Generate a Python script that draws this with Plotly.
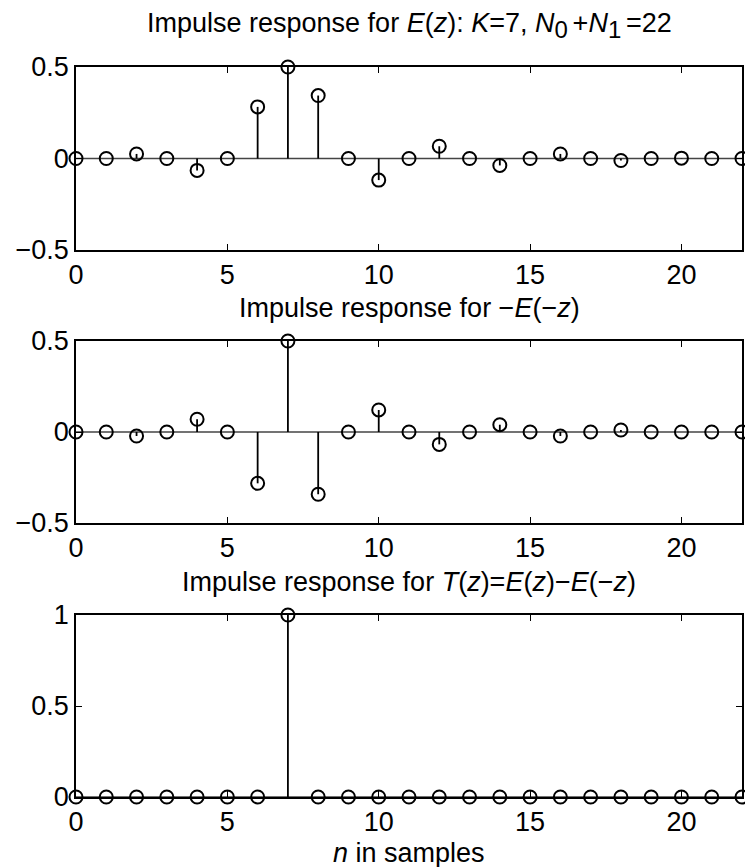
import plotly.graph_objects as go

n = list(range(23))
h_E = [0, 0, 0.025, 0, -0.065, 0, 0.282, 0.5, 0.344, 0, -0.118, 0, 0.067, 0,
       -0.038, 0, 0.025, 0, -0.011, 0, 0.002, 0, 0]
h_mEm = [0, 0, -0.022, 0, 0.07, 0, -0.282, 0.5, -0.342, 0, 0.121, 0, -0.068, 0,
         0.04, 0, -0.022, 0, 0.011, 0, 0.0, 0, 0]
h_T = [0, 0, 0, 0, 0, 0, 0, 1, 0, 0, 0, 0, 0, 0, 0, 0, 0, 0, 0, 0, 0, 0, 0]

SUB = "<sub><span style='font-size:24px'>{}\u2009</span></sub>"
titles = [
    "Impulse response for <i>E</i>(<i>z</i>): <i>K</i>=7, <i>N</i>" + SUB.format("0")
    + "+<i>N</i>" + SUB.format("1") + "=22",
    "Impulse response for \u2212<i>E</i>(\u2212<i>z</i>)",
    "Impulse response for <i>T</i>(<i>z</i>)=<i>E</i>(<i>z</i>)\u2212<i>E</i>(\u2212<i>z</i>)",
]
xlabel = "<i>n</i> in samples"
xticks = [0, 5, 10, 15, 20]
yticks_list = [[-0.5, 0, 0.5], [-0.5, 0, 0.5], [0, 0.5, 1]]
ytext_list = [["\u22120.5", "0", "0.5"], ["\u22120.5", "0", "0.5"], ["0", "0.5", "1"]]
yranges = [[-0.5, 0.5], [-0.5, 0.5], [0, 1]]

W, H = 745, 867
x0, x1 = 76 / W, 742 / W
panels = [(67, 250), (341, 523), (615, 797)]
title_y = [45, 325, 599]   # annotation bottoms in px from top
FONT = "Liberation Sans"
FS = 27

fig = go.Figure()
series = [h_E, h_mEm, h_T]
for i, (vals, (top, bot)) in enumerate(zip(series, panels)):
    k = "" if i == 0 else str(i + 1)
    xa, ya = "x" + k, "y" + k
    fig.add_trace(go.Scatter(x=[n[0], n[-1]], y=[0, 0], mode="lines",
                             line=dict(color="#444444", width=1.5),
                             xaxis=xa, yaxis=ya, showlegend=False, hoverinfo="skip",
                             cliponaxis=False))
    sx, sy = [], []
    for xv, yv in zip(n, vals):
        sx += [xv, xv, None]
        sy += [0, yv, None]
    fig.add_trace(go.Scatter(x=sx, y=sy, mode="lines",
                             line=dict(color="black", width=1.8),
                             xaxis=xa, yaxis=ya, showlegend=False, hoverinfo="skip"))
    fig.add_trace(go.Scatter(x=n, y=vals, mode="markers",
                             marker=dict(symbol="circle-open", size=13,
                                         color="black", line=dict(width=2, color="black")),
                             xaxis=xa, yaxis=ya, showlegend=False, cliponaxis=False))
    dom = [1 - bot / H, 1 - top / H]
    axcommon = dict(showline=True, linecolor="black", linewidth=1.5, mirror="ticks",
                    ticks="inside", ticklen=6, tickwidth=1, tickcolor="black",
                    showgrid=False, zeroline=False, automargin=False,
                    tickfont=dict(family=FONT, size=FS, color="black"))
    fig.update_layout(**{
        "xaxis" + k: dict(domain=[x0, x1], range=[0, 22], tickvals=xticks,
                          anchor=ya, **axcommon),
        "yaxis" + k: dict(domain=dom, range=yranges[i], tickvals=yticks_list[i],
                          ticktext=ytext_list[i], anchor=xa, **axcommon),
    })
    fig.add_annotation(text=titles[i], xref="paper", yref="paper",
                       x=(x0 + x1) / 2, y=1 - title_y[i] / H, xanchor="center",
                       yanchor="bottom", showarrow=False,
                       font=dict(family=FONT, size=FS, color="black"))

fig.add_annotation(text=xlabel, xref="paper", yref="paper",
                   x=(x0 + x1) / 2, y=1 - 853 / H, xanchor="center", yanchor="middle",
                   showarrow=False, font=dict(family=FONT, size=FS, color="black"))

fig.update_layout(width=W, height=H, margin=dict(l=0, r=0, t=0, b=0),
                  paper_bgcolor="white", plot_bgcolor="white",
                  font=dict(family=FONT, size=FS, color="black"))
fig.write_html("out.html", config={"displayModeBar": False},
               post_script="document.body.style.margin='0';document.body.style.overflow='hidden';")
